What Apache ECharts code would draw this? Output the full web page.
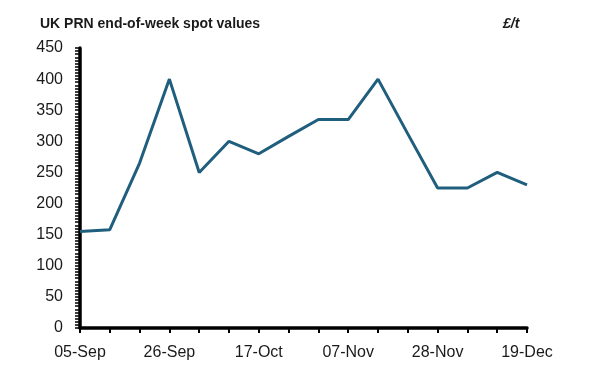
<!DOCTYPE html>
<html>
<head>
<meta charset="utf-8">
<script src="https://cdn.jsdelivr.net/npm/echarts@6/dist/echarts.min.js"></script>
<style>html,body{margin:0;padding:0;background:#fff}#c{width:589px;height:387px}</style>
</head>
<body>
<div id="c"></div>
<script>
var categories = ['05-Sep','12-Sep','19-Sep','26-Sep','03-Oct','10-Oct','17-Oct','24-Oct','31-Oct','07-Nov','14-Nov','21-Nov','28-Nov','05-Dec','12-Dec','19-Dec'];
var values = [155, 158, 265, 400, 250, 300, 280, 308, 335, 335, 400, 312, 225, 225, 250, 230];
var yTicks = [0, 50, 100, 150, 200, 250, 300, 350, 400, 450];

var chart = echarts.init(document.getElementById('c'), null, {renderer: 'canvas'});
chart.setOption({
  animation: false,
  backgroundColor: '#ffffff',
  title: [
    {text: 'UK PRN end-of-week spot values', left: 35, top: 12,
     textStyle: {fontFamily: 'Liberation Sans', fontSize: 14, fontWeight: 'bold', color: '#1a1a1a'}},
    {text: '£/t', left: 498, top: 12,
     textStyle: {fontFamily: 'Liberation Sans', fontSize: 14, fontWeight: 'bold', fontStyle: 'italic', color: '#1a1a1a'}}
  ],
  grid: {left: 80, right: 62, top: 48, bottom: 59, containLabel: false},
  xAxis: {
    type: 'category',
    data: categories,
    boundaryGap: false,
    axisLine: {lineStyle: {color: '#000', width: 3.5}},
    axisTick: {show: true, alignWithLabel: true, interval: 0, length: 5, lineStyle: {color: '#000', width: 2}},
    axisLabel: {interval: 2, margin: 17, fontFamily: 'Liberation Sans', fontSize: 16, color: '#1a1a1a'},
    splitLine: {show: false}
  },
  yAxis: {
    type: 'value',
    min: yTicks[0],
    max: yTicks[yTicks.length - 1],
    interval: 50,
    axisLine: {show: true, lineStyle: {color: '#000', width: 3.5}},
    axisTick: {show: true, length: 5, lineStyle: {color: '#000', width: 1.5}},
    minorTick: {show: true, splitNumber: 10, length: 5, lineStyle: {color: '#000', width: 1.5}},
    axisLabel: {margin: 17, fontFamily: 'Liberation Sans', fontSize: 16, color: '#1a1a1a'},
    splitLine: {show: false}
  },
  series: [{
    type: 'line',
    data: values,
    showSymbol: false,
    symbol: 'none',
    lineStyle: {color: '#205E7E', width: 3},
    itemStyle: {color: '#205E7E'}
  }]
});
</script>
</body>
</html>
